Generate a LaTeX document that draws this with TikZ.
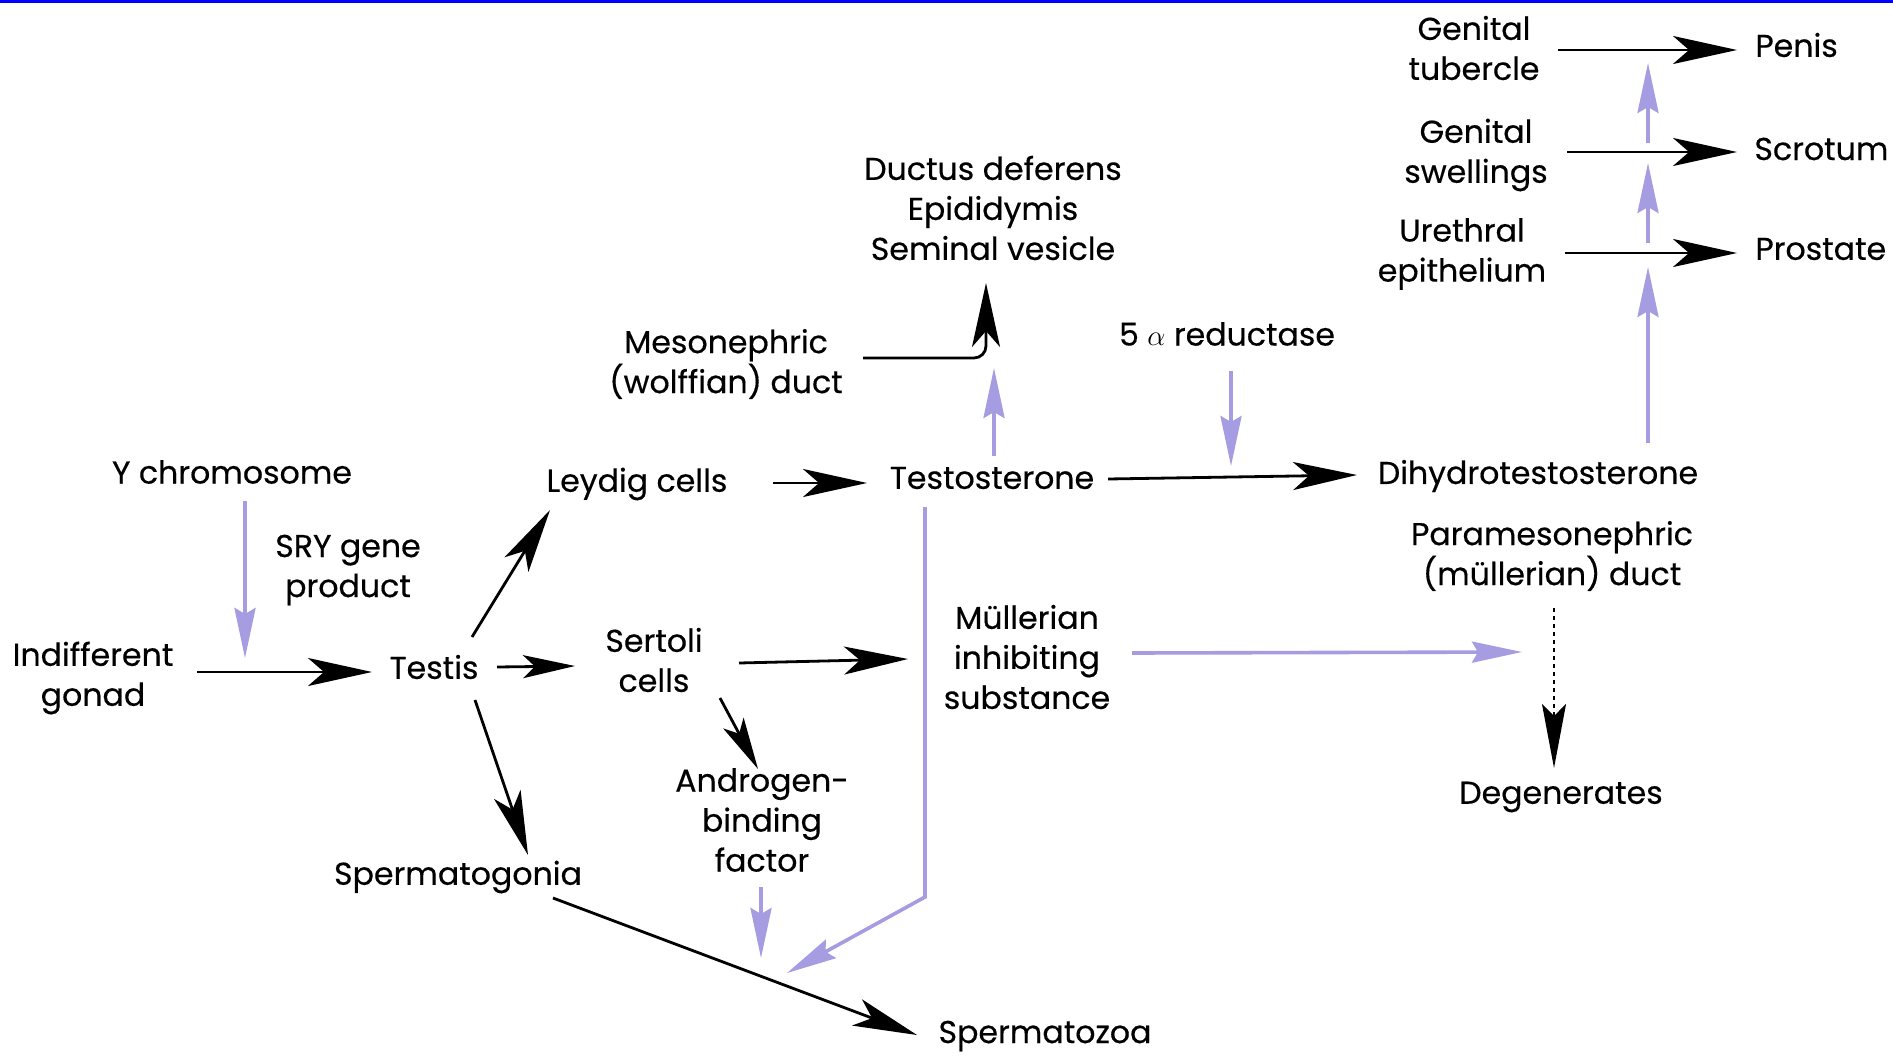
\documentclass[tikz,border=0pt]{standalone}
\usepackage{fontspec}
\setmainfont{Poppins}[FakeBold=0.4]
\usetikzlibrary{arrows.meta,calc}
\definecolor{lav}{RGB}{166,156,226}
\definecolor{topblue}{RGB}{0,0,255}
\begin{document}
\begin{tikzpicture}[x=0.5pt,y=-0.5pt,
  lbl/.style={align=center, inner sep=0pt, font=\fontsize{15.8}{20}\selectfont},
  blk/.style={line width=1.4pt, -{Stealth[length=32pt,width=14pt,inset=8pt]}},
  blks/.style={line width=1.4pt, -{Stealth[length=26pt,width=11.5pt,inset=6pt]}},
  dotarr/.style={line width=1pt, dash pattern=on 2pt off 2pt, -{Stealth[length=32pt,width=12pt,inset=6pt,sep=0pt]}},
  lavarr/.style={lav, line width=1.8pt, -{Stealth[length=25pt,width=10.5pt,inset=3pt]}},
]
\path[use as bounding box] (0,0) rectangle (1893,1059);
\fill[white] (0,0) rectangle (1893,1059);
\fill[topblue] (0,0) rectangle (1893,3);

% nodes
\node[lbl] (gt) at (1474,48) {Genital\\tubercle};
\node[lbl,anchor=west] (penis) at (1755,45) {Penis};
\node[lbl] (gs) at (1476,155) {Genital\\swellings};
\node[lbl,anchor=west] (scrotum) at (1754,149) {Scrotum};
\node[lbl] (ue) at (1462,254) {Urethral\\epithelium};
\node[lbl,anchor=west] (prostate) at (1755,249) {Prostate};
\node[lbl] (ductus) at (993,208) {Ductus deferens\\Epididymis\\Seminal vesicle};
\node[lbl] (meso) at (726,364) {Mesonephric\\(wolffian) duct};
\node[lbl] (red5) at (1227,334) {5 $\alpha$ reductase};
\node[lbl] (ychrom) at (232,472) {Y chromosome};
\node[lbl] (leydig) at (637,484) {Leydig cells};
\node[lbl] (testo) at (992,478) {Testosterone};
\node[lbl] (dht) at (1538,476) {Dihydrotestosterone};
\node[lbl] (sry) at (348,570) {SRY gene\\product};
\node[lbl] (para) at (1552,556) {Paramesonephric\\(müllerian) duct};
\node[lbl] (indiff) at (93,678) {Indifferent\\gonad};
\node[lbl] (testis) at (434,667) {Testis};
\node[lbl] (sertoli) at (654,660) {Sertoli\\cells};
\node[lbl] (mis) at (1027,657) {Müllerian\\inhibiting\\substance};
\node[lbl] (abf) at (762,820) {Androgen-\\binding\\factor};
\node[lbl] (degen) at (1561,797) {Degenerates};
\node[lbl] (spgonia) at (458,877) {Spermatogonia};
\node[lbl] (spzoa) at (1045,1036) {Spermatozoa};

% free ends
\coordinate (yend) at (245,658);
\coordinate (tup) at (994,368);
\coordinate (rdown) at (1231,466);
\coordinate (d1) at (1648,267);
\coordinate (d2s) at (1648,243);
\coordinate (d2e) at (1648,163);
\coordinate (d3s) at (1648,143);
\coordinate (d3e) at (1648,63);
\coordinate (tcorner) at (925,897);
\coordinate (tend) at (787,973);
\coordinate (abfend) at (761,958);
\coordinate (misend) at (1522,652);

% black connectors
\draw[blk] ([shift={(84,2)}]gt.center) -- ([shift={(-18,5)}]penis.west);
\draw[blk] ([shift={(91,-3)}]gs.center) -- ([shift={(-17,3)}]scrotum.west);
\draw[blk] ([shift={(103,-1)}]ue.center) -- ([shift={(-18,4)}]prostate.west);
\draw[blk, rounded corners=6pt] ([shift={(137,-6)}]meso.center) -| ([shift={(-7,75)}]ductus.center);
\draw[blk] ([shift={(136,-1)}]leydig.center) -- ([shift={(-125,5)}]testo.center);
\draw[blk] ([shift={(116,1)}]testo.center) -- ([shift={(-181,-1)}]dht.center);
\draw[blk] ([shift={(104,-6)}]indiff.center) -- ([shift={(-62,5)}]testis.center);
\draw[blks] ([shift={(63,0)}]testis.center) -- ([shift={(-79,6)}]sertoli.center);
\draw[blk] ([shift={(38,-30)}]testis.center) -- ([shift={(-87,26)}]leydig.center);
\draw[blk] ([shift={(41,33)}]testis.center) -- ([shift={(70,-22)}]spgonia.center);
\draw[blk] ([shift={(85,3)}]sertoli.center) -- ([shift={(-119,2)}]mis.center);
\draw[blks] ([shift={(66,38)}]sertoli.center) -- ([shift={(-4,-51)}]abf.center);
\draw[blk] ([shift={(95,21)}]spgonia.center) -- ([shift={(-128,-1)}]spzoa.center);
\draw[dotarr] ([shift={(2,52)}]para.center) -- ([shift={(-7,-29)}]degen.center);

% lavender connectors
\draw[lavarr] ([shift={(13,29)}]ychrom.center) -- (yend);
\draw[lavarr] ([shift={(2,-22)}]testo.center) -- (tup);
\draw[lavarr] ([shift={(4,37)}]red5.center) -- (rdown);
\draw[lavarr] ([shift={(110,-33)}]dht.center) -- (d1);
\draw[lavarr] (d2s) -- (d2e);
\draw[lavarr] (d3s) -- (d3e);
\draw[lavarr] ([shift={(-67,29)}]testo.center) -- (tcorner) -- (tend);
\draw[lavarr] ([shift={(-1,67)}]abf.center) -- (abfend);
\draw[lavarr] ([shift={(105,-4)}]mis.center) -- (misend);
\end{tikzpicture}
\end{document}
